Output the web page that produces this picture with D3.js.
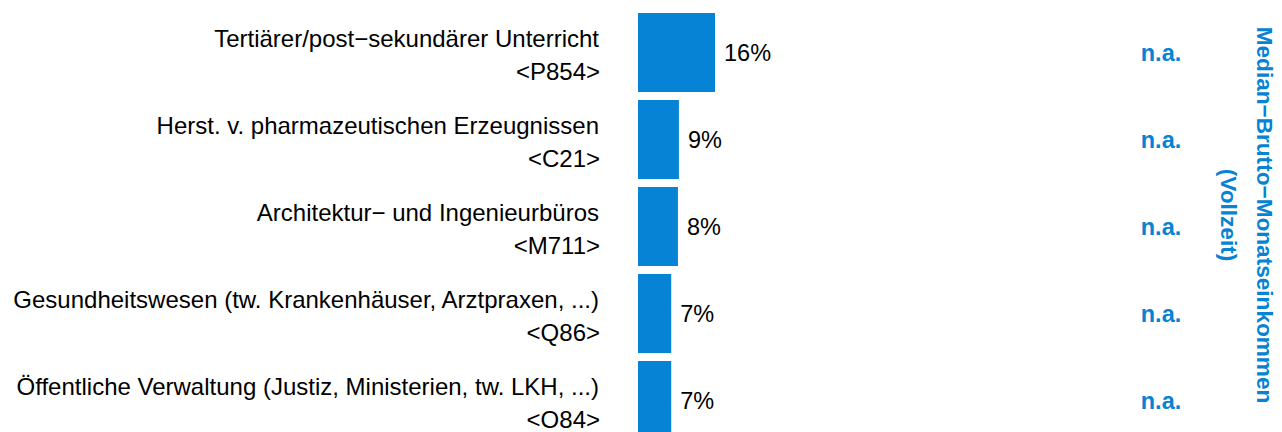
<!DOCTYPE html>
<html>
<head>
<meta charset="utf-8">
<script src="https://cdn.jsdelivr.net/npm/d3@7"></script>
<style>
    body { margin: 0; background: #fff; }
    text { font-family: "Liberation Sans", Arial, sans-serif; }
</style>
</head>
<body>
<div id="chart"></div>
<script>
const branches = [
    "Tertiärer/post\u2212sekundärer Unterricht",
    "Herst. v. pharmazeutischen Erzeugnissen",
    "Architektur\u2212 und Ingenieurbüros",
    "Gesundheitswesen (tw. Krankenhäuser, Arztpraxen, ...)",
    "Öffentliche Verwaltung (Justiz, Ministerien, tw. LKH, ...)"
];
const codes = ["<P854>", "<C21>", "<M711>", "<Q86>", "<O84>"];
const shares = [16.0, 8.5, 8.3, 6.9, 6.9];
const incomes = ["n.a.", "n.a.", "n.a.", "n.a.", "n.a."];
const titleLines = ["Median\u2212Brutto\u2212Monatseinkommen", "(Vollzeit)"];

const width = 1282;
const height = 432;
const blue = "#0683d4";

const svg = d3.select("#chart")
    .append("svg")
    .attr("width", width)
    .attr("height", height);

const rows = branches.map((b, i) => ({
    branch: b,
    code: codes[i],
    share: shares[i],
    income: incomes[i]
}));

const y = d3.scaleBand()
    .domain(d3.range(rows.length))
    .range([9, 444])
    .paddingInner(0.092)
    .paddingOuter(0.046);

const x = d3.scaleLinear()
    .domain([0, d3.max(shares)])
    .range([638, 715]);

const fmt = d => d3.format(".0f")(d) + "%";

const row = svg.selectAll("g.row")
    .data(rows)
    .join("g")
    .attr("class", "row");

row.append("rect")
    .attr("x", x(0))
    .attr("y", (d, i) => y(i))
    .attr("width", d => x(d.share) - x(0))
    .attr("height", y.bandwidth())
    .attr("fill", blue);

// two-line category labels
const label = row.append("text")
    .attr("text-anchor", "end")
    .style("font-size", "24px")
    .attr("fill", "#000");

label.append("tspan")
    .attr("x", 599)
    .attr("y", (d, i) => y(i) + y.bandwidth() / 2 - 6)
    .text(d => d.branch);

label.append("tspan")
    .attr("x", 600)
    .attr("y", (d, i) => y(i) + y.bandwidth() / 2 + 27)
    .text(d => d.code);

row.append("text")
    .attr("x", d => x(d.share) + 9)
    .attr("y", (d, i) => y(i) + y.bandwidth() / 2)
    .attr("dy", "0.36em")
    .style("font-size", "23.5px")
    .attr("fill", "#000")
    .text(d => fmt(d.share));

row.append("text")
    .attr("x", 1161)
    .attr("y", (d, i) => y(i) + y.bandwidth() / 2)
    .attr("dy", "0.36em")
    .attr("text-anchor", "middle")
    .style("font-size", "23.5px")
    .style("font-weight", "bold")
    .attr("fill", blue)
    .text(d => d.income);

// rotated column title
const title = svg.append("text")
    .attr("transform", "translate(1257,215) rotate(90)")
    .attr("text-anchor", "middle")
    .style("font-size", "22.6px")
    .style("font-weight", "bold")
    .attr("fill", blue);

title.selectAll("tspan")
    .data(titleLines)
    .join("tspan")
    .attr("x", 0)
    .attr("y", (d, i) => i * 36)
    .text(d => d);
</script>
</body>
</html>
